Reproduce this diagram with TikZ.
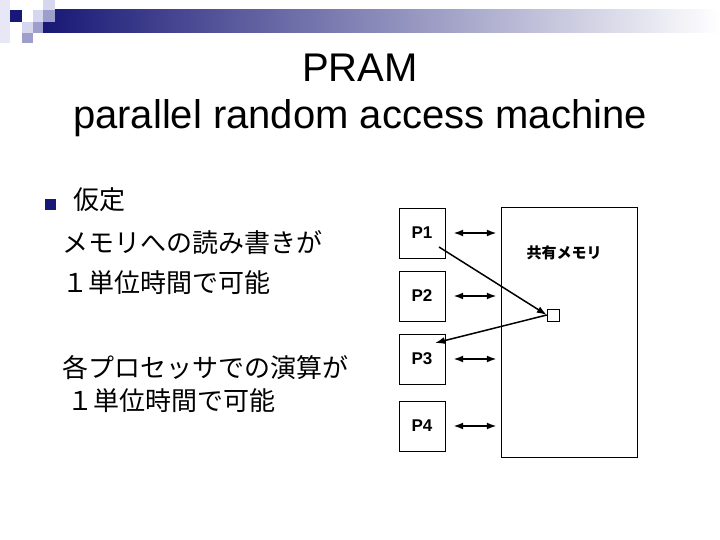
\documentclass[tikz,border=0pt]{standalone}
\usepackage{fontspec}
\setmainfont{Liberation Sans}
\newfontfamily\jpfont{Noto Sans CJK JP}
\usepackage{tikz}
\usetikzlibrary{positioning,arrows.meta}

\definecolor{navy}{RGB}{24,24,118}
\definecolor{lavlight}{RGB}{214,214,238}
\definecolor{lavmid}{RGB}{158,158,204}

\begin{document}
\begin{tikzpicture}
  [x=1pt,y=-1pt,
   proc/.style={draw, inner sep=0pt, minimum width=46pt, minimum height=50pt,
     font=\fontsize{17}{17}\selectfont\bfseries},
   link/.style={{Latex[length=10pt,width=7pt]}-{Latex[length=10pt,width=7pt]}, line width=2pt},
   access/.style={-{Latex[length=10pt,width=7pt]}, line width=1.5pt},
   title/.style={anchor=base, font=\fontsize{40}{40}\selectfont},
   body/.style={anchor=base west, font=\jpfont\fontsize{26}{26}\selectfont}]
  \useasboundingbox (0,0) rectangle (720,540);

  % header
  \shade[left color=navy, right color=white] (43,10) rectangle (720,33);
  \fill[lavlight!60] (0,0) rectangle (10,43);
  \fill[navy] (10,10) rectangle (22,22);
  \fill[lavlight] (22,22) rectangle (33,33);
  \fill[lavmid] (22,33) rectangle (33,43);
  \fill[lavlight] (33,10) rectangle (43,22);
  \fill[lavmid] (33,22) rectangle (43,33);
  \fill[lavmid] (43,10) rectangle (55,22);
  \fill[lavlight] (43,0) rectangle (55,10);

  \node[title] (t1) at (360,82) {PRAM};
  \node[title] (t2) at (360,129) {parallel random access machine};

  % left text
  \fill[navy] (45,199) rectangle (56,210);
  \node[body] (a1) at (70,210) {仮定};
  \node[body] (a2) at (59,252) {メモリへの読み書きが};
  \node[body] (a3) at (59,292) {１単位時間で可能};
  \node[body] (a4) at (59,377) {各プロセッサでの演算が};
  \node[body] (a5) at (64,410) {１単位時間で可能};

  % processors and memory
  \node[draw, minimum width=136pt, minimum height=250pt] (mem) at (569,332) {};
  \node[font=\jpfont\fontsize{15}{15}\selectfont\bfseries] (memlbl) at (564,253) {共有メモリ};
  \node[draw, fill=white, inner sep=0pt, minimum size=12pt] (cell) at (553,315) {};

  \foreach \n/\y in {1/233, 2/296, 3/359, 4/426}
    \node[proc] (p\n) at (422,\y) {P\n};

  \foreach \n in {1,...,4}
    \draw[link, shorten <=8pt, shorten >=4pt] (p\n) -- (p\n -| mem.west);

  \coordinate (src) at (439,247);
  \coordinate (dst) at (435,343);
  \draw[access] (src) -- (cell.west);
  \draw[access] (cell.west) -- (dst);
\end{tikzpicture}
\end{document}
